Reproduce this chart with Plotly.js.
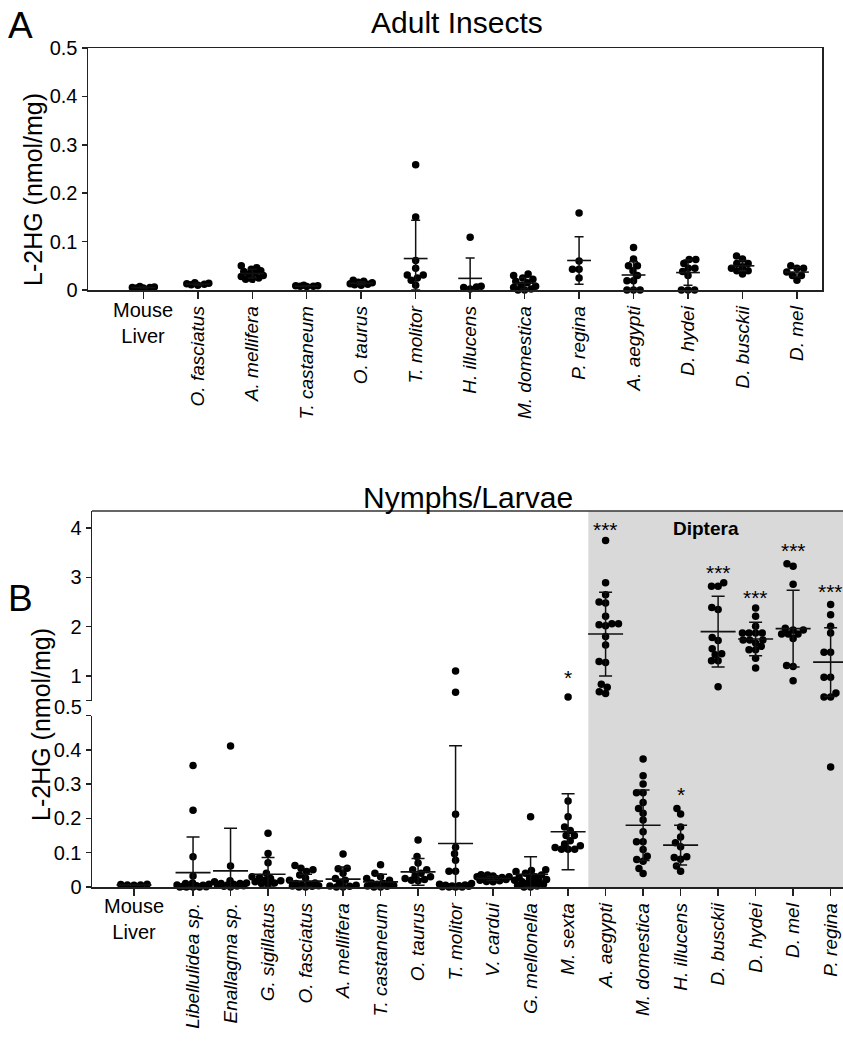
<!DOCTYPE html>
<html><head><meta charset="utf-8">
<script src="https://cdn.plot.ly/plotly-3.0.1.min.js"></script>
<style>html,body{margin:0;padding:0;background:#fff}#chart{width:843px;height:1042px}</style>
</head><body><div id="chart"></div>
<script>
// ---------------- DATA ----------------
// Panel A: Adult insects (L-2HG, nmol/mg)
const categoriesA = ['Mouse Liver','O. fasciatus','A. mellifera','T. castaneum','O. taurus','T. molitor','H. illucens','M. domestica','P. regina','A. aegypti','D. hydei','D. busckii','D. mel'];
const mouseA = [0.004, 0.006, 0.005, 0.007, 0.005, 0.004];
const ofasA  = [0.010, 0.013, 0.012, 0.015, 0.011, 0.014];
const amelA  = [0.050, 0.046, 0.043, 0.040, 0.036, 0.033, 0.030, 0.028, 0.025, 0.022, 0.022, 0.038];
const tcasA  = [0.008, 0.009, 0.007, 0.010, 0.008, 0.009];
const otauA  = [0.020, 0.018, 0.015, 0.013, 0.012, 0.010, 0.016, 0.011];
const tmolA  = [0.259, 0.151, 0.061, 0.045, 0.031, 0.031, 0.020, 0.010, 0.025];
const hillA  = [0.109, 0.008, 0.006, 0.005, 0.002];
const mdomA  = [0.033, 0.030, 0.025, 0.022, 0.018, 0.015, 0.010, 0.008, 0.005, 0.002, 0.0, 0.0];
const pregA  = [0.159, 0.060, 0.043, 0.043, 0.025];
const aaegA  = [0.088, 0.064, 0.050, 0.050, 0.040, 0.030, 0.019, 0.019, 0.0, 0.0, 0.0];
const dhydA  = [0.063, 0.063, 0.055, 0.045, 0.045, 0.038, 0.030, 0.0, 0.0, 0.0];
const dbusA  = [0.070, 0.064, 0.055, 0.055, 0.048, 0.045, 0.040, 0.040, 0.033];
const dmelA  = [0.050, 0.045, 0.045, 0.037, 0.030, 0.030, 0.020];
const meanA  = [0.005, 0.012, 0.034, 0.008, 0.014, 0.065, 0.024, 0.014, 0.061, 0.031, 0.036, 0.050, 0.037];
const sdA    = [0.001, 0.002, 0.009, 0.001, 0.003, 0.079, 0.042, 0.012, 0.049, 0.028, 0.026, 0.011, 0.010];

// Panel B: Nymphs / larvae
const categoriesB = ['Mouse Liver','Libellulidea sp.','Enallagma sp.','G. sigillatus','O. fasciatus','A. mellifera','T. castaneum','O. taurus','T. molitor','V. cardui','G. mellonella','M. sexta','A. aegypti','M. domestica','H. illucens','D. busckii','D. hydei','D. mel','P. regina'];
const mouseB = [0.005, 0.007, 0.006, 0.008, 0.006];
const libB   = [0.354, 0.224, 0.088, 0.032, 0.012, 0.010, 0.008, 0.006, 0.005, 0.004, 0.003, 0.002, 0.001, 0.0, 0.0, 0.0, 0.0];
const enaB   = [0.411, 0.061, 0.018, 0.015, 0.012, 0.010, 0.010, 0.008, 0.006, 0.005, 0.004, 0.003, 0.002, 0.0];
const gsigB  = [0.157, 0.098, 0.071, 0.040, 0.030, 0.028, 0.025, 0.020, 0.018, 0.015, 0.012, 0.010, 0.008];
const ofasB  = [0.063, 0.055, 0.050, 0.045, 0.035, 0.026, 0.020, 0.012, 0.010, 0.008, 0.005, 0.004, 0.003, 0.002, 0.0, 0.0];
const amelB  = [0.096, 0.055, 0.053, 0.040, 0.025, 0.020, 0.010, 0.005, 0.003, 0.002, 0.0, 0.0];
const tcasB  = [0.065, 0.040, 0.030, 0.025, 0.020, 0.012, 0.010, 0.008, 0.005, 0.003, 0.002, 0.0, 0.0];
const otauB  = [0.137, 0.089, 0.070, 0.050, 0.050, 0.040, 0.032, 0.030, 0.025, 0.022, 0.020, 0.018];
const tmolB  = [1.10, 0.67, 0.212, 0.116, 0.097, 0.078, 0.046, 0.046, 0.010, 0.008, 0.006, 0.005, 0.004, 0.003, 0.002, 0.001, 0.0, 0.0, 0.0];
const vcarB  = [0.036, 0.035, 0.032, 0.030, 0.028, 0.026, 0.025, 0.024, 0.022, 0.020, 0.018, 0.016, 0.015, 0.030];
const gmelB  = [0.205, 0.050, 0.048, 0.045, 0.040, 0.035, 0.030, 0.028, 0.025, 0.022, 0.020, 0.018, 0.015, 0.012, 0.010, 0.008, 0.005, 0.003, 0.0, 0.0];
const msexB  = [0.57, 0.251, 0.205, 0.175, 0.165, 0.150, 0.150, 0.135, 0.125, 0.110, 0.110, 0.110, 0.115, 0.120];
const aaegB  = [3.75, 2.89, 2.65, 2.50, 2.48, 2.21, 2.06, 2.04, 2.06, 2.02, 1.80, 1.63, 1.29, 1.27, 0.83, 0.77, 0.68, 0.64];
const mdomB  = [0.373, 0.324, 0.300, 0.275, 0.275, 0.246, 0.229, 0.215, 0.195, 0.161, 0.132, 0.132, 0.109, 0.090, 0.080, 0.075, 0.054, 0.039];
const hillB  = [0.229, 0.213, 0.175, 0.146, 0.129, 0.117, 0.088, 0.081, 0.086, 0.061, 0.046];
const dbusB  = [2.89, 2.82, 2.82, 2.39, 2.35, 1.78, 1.72, 1.55, 1.45, 1.43, 1.31, 1.31, 0.78];
const dhydB  = [2.38, 2.21, 2.01, 1.87, 1.87, 1.87, 1.87, 1.73, 1.73, 1.73, 1.67, 1.60, 1.53, 1.53, 1.36, 1.16];
const dmelB  = [3.28, 3.23, 2.86, 1.97, 1.93, 1.93, 1.85, 1.85, 1.85, 1.76, 1.21, 1.19, 0.90];
const pregB  = [2.45, 2.24, 2.01, 1.87, 1.48, 1.48, 0.97, 0.97, 0.65, 0.57, 0.57, 0.35];
const meanB  = [0.006, 0.042, 0.047, 0.037, 0.017, 0.023, 0.015, 0.044, 0.127, 0.025, 0.037, 0.161, 1.85, 0.180, 0.122, 1.90, 1.75, 1.96, 1.28];
const sdB    = [0.001, 0.104, 0.124, 0.049, 0.020, 0.035, 0.022, 0.039, 0.285, 0.006, 0.051, 0.111, 0.85, 0.103, 0.058, 0.72, 0.34, 0.78, 0.70];
const sigB   = ['', '', '', '', '', '', '', '', '', '', '', '*', '***', '', '*', '***', '***', '***', '***'];
const sigYB  = [0, 0, 0, 0, 0, 0, 0, 0, 0, 0, 0, 1.06, 4.07, 0, 0.283, 3.20, 2.69, 3.64, 2.82];

const yTicksA = [0, 0.1, 0.2, 0.3, 0.4, 0.5];
const yTicksBLow = [0, 0.1, 0.2, 0.3, 0.4, 0.5];
const yTicksBUp = [0.5, 1, 2, 3, 4];

const groupsA = [mouseA, ofasA, amelA, tcasA, otauA, tmolA, hillA, mdomA, pregA, aaegA, dhydA, dbusA, dmelA];
const groupsB = [mouseB, libB, enaB, gsigB, ofasB, amelB, tcasB, otauB, tmolB, vcarB, gmelB, msexB, aaegB, mdomB, hillB, dbusB, dhydB, dmelB, pregB];

// ---------------- LAYOUT GEOMETRY (pixels) ----------------
const W = 843, H = 1042;
const FONT = 'Liberation Sans, Arial, sans-serif';
const PA = {left: 88, right: 822, top: 48, bottom: 290, xr: [-1.016, 12.46], yr: [0, 0.5]};
const PB = {left: 92, right: 843, top: 511, upBottom: 700.5, lowTop: 715.5, bottom: 887,
            xr: [-1.694, 18.33], lowR: [0, 0.5], upR: [0.5, 4.35], dipteraStart: 11.54, controlGap: 1.574};
const px2x = p => p / W;
const py2y = p => 1 - p / H;

const xposA = categoriesA.map((c, i) => i);
const xposB = categoriesB.map((c, i) => i === 0 ? 1 - PB.controlGap : i);

const xpxA = (PA.right - PA.left) / (PA.xr[1] - PA.xr[0]);
const ypxA = (PA.bottom - PA.top) / (PA.yr[1] - PA.yr[0]);
const xpxB = (PB.right - PB.left) / (PB.xr[1] - PB.xr[0]);
const ypxBlow = (PB.bottom - PB.lowTop) / (PB.lowR[1] - PB.lowR[0]);
const ypxBup = (PB.upBottom - PB.top) / (PB.upR[1] - PB.upR[0]);

// beeswarm in pixel space, limited to a maximum half-width; returns horizontal pixel offsets
function swarm(pys, d, maxW) {
  const order = pys.map((p, i) => i).sort((a, b) => pys[a] - pys[b]);
  const placed = [];
  const offs = new Array(pys.length).fill(0);
  order.forEach(i => {
    const y = pys[i];
    const cands = [0];
    placed.forEach(p => {
      const dy = Math.abs(p.y - y);
      if (dy < d) { const dx = Math.sqrt(d * d - dy * dy); cands.push(p.x + dx, p.x - dx); }
    });
    cands.sort((a, b) => Math.abs(a) - Math.abs(b) || a - b);
    let best = null;
    for (const c of cands) {
      if (Math.abs(c) > maxW) continue;
      if (placed.every(p => (p.x - c) ** 2 + (p.y - y) ** 2 >= d * d - 1e-6)) { best = c; break; }
    }
    if (best === null) {
      let bestScore = -1;
      for (let c = -maxW; c <= maxW; c += 0.5) {
        const m = Math.min(...placed.map(p => (p.x - c) ** 2 + (p.y - y) ** 2));
        if (m > bestScore + 1e-9 || (Math.abs(m - bestScore) < 1e-9 && Math.abs(c) < Math.abs(best))) { bestScore = m; best = c; }
      }
    }
    placed.push({x: best, y: y});
    offs[i] = best;
  });
  return offs;
}

const DOT = 7.5;
const SW = 6.6;

// Panel A points
const ptsA = {x: [], y: []};
groupsA.forEach((vals, g) => {
  const pys = vals.map(v => v * ypxA);
  const offs = swarm(pys, SW, 11);
  vals.forEach((v, k) => { ptsA.x.push(xposA[g] + offs[k] / xpxA); ptsA.y.push(v); });
});

// Panel B points, split between the two y segments (pixel heights account for the break)
const breakGap = PB.lowTop - PB.upBottom;
const ptsBlow = {x: [], y: []}, ptsBup = {x: [], y: []};
groupsB.forEach((vals, g) => {
  const pys = vals.map(v => v >= 0.5 ? 0.5 * ypxBlow + breakGap + (v - 0.5) * ypxBup : v * ypxBlow);
  const offs = swarm(pys, SW, 16);
  vals.forEach((v, k) => {
    const tgt = v >= 0.5 ? ptsBup : ptsBlow;
    tgt.x.push(xposB[g] + offs[k] / xpxB); tgt.y.push(v);
  });
});

const dotStyle = {size: DOT, color: '#000'};
const traces = [];
traces.push({type: 'scatter', mode: 'markers', x: ptsA.x, y: ptsA.y, xaxis: 'x', yaxis: 'y', marker: dotStyle, cliponaxis: false, hoverinfo: 'y'});
traces.push({type: 'scatter', mode: 'markers', x: xposA, y: meanA, xaxis: 'x', yaxis: 'y', cliponaxis: false,
  marker: {symbol: 'line-ew', size: 17, line: {width: 1.6, color: '#111'}},
  error_y: {type: 'data', symmetric: false, array: sdA, arrayminus: sdA.map((s, i) => Math.min(s, meanA[i])), width: 4.5, thickness: 1.5, color: '#111'}});

traces.push({type: 'scatter', mode: 'markers', x: ptsBlow.x, y: ptsBlow.y, xaxis: 'x2', yaxis: 'y2', marker: dotStyle, cliponaxis: false, hoverinfo: 'y'});
traces.push({type: 'scatter', mode: 'markers', x: ptsBup.x, y: ptsBup.y, xaxis: 'x2', yaxis: 'y3', marker: dotStyle, cliponaxis: false, hoverinfo: 'y'});
const lowIdx = meanB.map((m, i) => i).filter(i => meanB[i] < 0.5);
const upIdx = meanB.map((m, i) => i).filter(i => meanB[i] >= 0.5);
[[lowIdx, 'y2'], [upIdx, 'y3']].forEach(([idx, ya]) => {
  traces.push({type: 'scatter', mode: 'markers', x: idx.map(i => xposB[i]), y: idx.map(i => meanB[i]), xaxis: 'x2', yaxis: ya, cliponaxis: false,
    marker: {symbol: 'line-ew', size: 25, line: {width: 1.6, color: '#111'}},
    error_y: {type: 'data', symmetric: false, array: idx.map(i => sdB[i]), arrayminus: idx.map(i => Math.min(sdB[i], meanB[i])), width: 6.5, thickness: 1.5, color: '#111'}});
});

const axLine = {showline: true, linewidth: 1.5, linecolor: '#222', showgrid: false, zeroline: false, ticks: 'outside', tickwidth: 1.5, tickcolor: '#222'};
const italic = s => '<i>' + s + '</i>';
const fmt = v => String(v);

const layout = {
  width: W, height: H, margin: {l: 0, r: 0, t: 0, b: 0}, showlegend: false,
  paper_bgcolor: '#fff', plot_bgcolor: 'rgba(0,0,0,0)',
  font: {family: FONT, color: '#000'},
  xaxis: Object.assign({}, axLine, {domain: [px2x(PA.left), px2x(PA.right)], range: PA.xr, anchor: 'y', mirror: true,
    tickvals: xposA, ticktext: categoriesA.map((c, i) => i === 0 ? '' : italic(c)), tickangle: -90, ticklen: 7,
    tickfont: {family: FONT, size: 19}}),
  yaxis: Object.assign({}, axLine, {domain: [py2y(PA.bottom), py2y(PA.top)], range: PA.yr, anchor: 'x', mirror: true,
    tickvals: yTicksA, ticktext: yTicksA.map(fmt), ticklen: 5, tickfont: {family: FONT, size: 20}}),
  xaxis2: Object.assign({}, axLine, {domain: [px2x(PB.left), px2x(PB.right)], range: PB.xr, anchor: 'y2',
    tickvals: xposB, ticktext: categoriesB.map((c, i) => i === 0 ? '' : italic(c)), tickangle: -90, ticklen: 7,
    tickfont: {family: FONT, size: 19}}),
  yaxis2: Object.assign({}, axLine, {domain: [py2y(PB.bottom), py2y(PB.lowTop)], range: PB.lowR, anchor: 'x2',
    tickvals: yTicksBLow, ticktext: yTicksBLow.map(v => v === 0.5 ? '' : fmt(v)), ticklen: 5, tickfont: {family: FONT, size: 20}}),
  yaxis3: Object.assign({}, axLine, {domain: [py2y(PB.upBottom), py2y(PB.top)], range: PB.upR, anchor: 'x2',
    tickvals: yTicksBUp, ticktext: yTicksBUp.map(v => v === 0.5 ? '' : fmt(v)), ticklen: 5, tickfont: {family: FONT, size: 20}}),
  shapes: [
    {type: 'rect', xref: 'x2', yref: 'paper', x0: PB.dipteraStart, x1: PB.xr[1] + 1, y0: py2y(PB.bottom), y1: py2y(PB.top),
     fillcolor: '#d9d9d9', line: {width: 0}, layer: 'below'},
    {type: 'line', xref: 'paper', yref: 'paper', x0: px2x(PB.left), x1: 1, y0: py2y(PB.top), y1: py2y(PB.top),
     line: {color: '#333', width: 1.5}}
  ],
  annotations: []
};

const ann = layout.annotations;
const txt = (text, x, y, opts) => ann.push(Object.assign({text: text, x: x, y: y, xref: 'paper', yref: 'paper', showarrow: false,
  xanchor: 'center', yanchor: 'middle', font: {family: FONT, size: 18, color: '#000'}}, opts || {}));

txt('A', px2x(6), py2y(25), {xanchor: 'left', font: {family: FONT, size: 37, color: '#000'}});
txt('B', px2x(6), py2y(598), {xanchor: 'left', font: {family: FONT, size: 37, color: '#000'}});
txt('Adult Insects', px2x(457), py2y(22), {font: {family: FONT, size: 30, color: '#000'}});
txt('Nymphs/Larvae', px2x(468), py2y(497), {font: {family: FONT, size: 30, color: '#000'}});
txt('L-2HG (nmol/mg)', px2x(33), py2y(190), {textangle: -90, font: {family: FONT, size: 25, color: '#000'}});
txt('L-2HG (nmol/mg)', px2x(41), py2y(725), {textangle: -90, font: {family: FONT, size: 25, color: '#000'}});
txt('0.5', px2x(84), py2y(707), {xanchor: 'right', font: {family: FONT, size: 20, color: '#000'}});
ann.push({text: 'Mouse<br>Liver', x: xposA[0], xref: 'x', y: py2y(297), yref: 'paper', yanchor: 'top', showarrow: false,
  font: {family: FONT, size: 20, color: '#000'}});
ann.push({text: 'Mouse<br>Liver', x: xposB[0], xref: 'x2', y: py2y(893), yref: 'paper', yanchor: 'top', showarrow: false,
  font: {family: FONT, size: 20, color: '#000'}});
txt('<b>Diptera</b>', px2x(706), py2y(528), {font: {family: FONT, size: 19, color: '#000'}});
sigB.forEach((s, i) => {
  if (!s) return;
  ann.push({text: s, x: xposB[i], xref: 'x2', y: sigYB[i], yref: sigYB[i] >= 0.5 ? 'y3' : 'y2', showarrow: false,
    yanchor: 'middle', yshift: -5, font: {family: FONT, size: 21, color: '#000'}});
});

Plotly.newPlot('chart', traces, layout, {displayModeBar: false, staticPlot: true});
</script></body></html>
